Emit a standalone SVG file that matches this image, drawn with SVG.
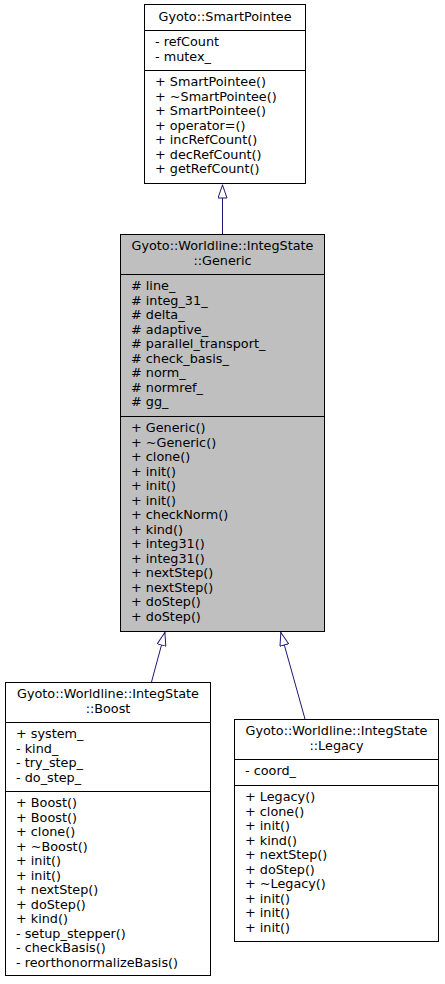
<svg xmlns="http://www.w3.org/2000/svg" width="445" height="984" viewBox="0 0 445 984">
<defs>
<style>
text{font-family:"DejaVu Sans","Liberation Sans",sans-serif;font-size:12.8px;fill:#000}
.c{text-anchor:middle}
.box{fill:#fff;stroke:#000;stroke-width:1}
.focus{fill:#bfbfbf;stroke:#000;stroke-width:1}
.sep{stroke:#000;stroke-width:1;fill:none}
.edge{stroke:#191970;stroke-width:1;fill:none;marker-end:url(#inh)}
</style>
<marker id="inh" viewBox="0 0 14 10" markerWidth="14" markerHeight="10" refX="14" refY="5" orient="auto" markerUnits="userSpaceOnUse">
<path d="M0.5,0.5 L13.5,5 L0.5,9.5 z" fill="#fff" stroke="#191970" stroke-width="1"/>
</marker>
</defs>
<rect width="445" height="984" fill="#fff"/>
<g id="edges">
<path class="edge" d="M222.5,234 L222.5,184.5"/>
<path class="edge" d="M151.5,682 L165,632"/>
<path class="edge" d="M305,719 L280.7,632"/>
</g>
<g id="SmartPointee">
<rect class="box" x="144.5" y="4.5" width="161" height="179"/>
<path class="sep" d="M144.5,30.5 H305.5 M144.5,70.5 H305.5"/>
<text class="c" x="225" y="21">Gyoto::SmartPointee</text>
<text x="155" y="46">- refCount</text>
<text x="155" y="60.5">- mutex_</text>
<text x="155" y="86">+ SmartPointee()</text>
<text x="155" y="100.5">+ ~SmartPointee()</text>
<text x="155" y="115">+ SmartPointee()</text>
<text x="155" y="129.5">+ operator=()</text>
<text x="155" y="144">+ incRefCount()</text>
<text x="155" y="158.5">+ decRefCount()</text>
<text x="155" y="173">+ getRefCount()</text>
</g>
<g id="Generic">
<rect class="focus" x="120.5" y="234.5" width="204" height="397"/>
<path class="sep" d="M120.5,274.5 H324.5 M120.5,416.5 H324.5"/>
<text class="c" x="222.5" y="250">Gyoto::Worldline::IntegState</text>
<text class="c" x="222.5" y="264.5">::Generic</text>
<text x="131" y="290"># line_</text>
<text x="131" y="304.5"># integ_31_</text>
<text x="131" y="319"># delta_</text>
<text x="131" y="333.5"># adaptive_</text>
<text x="131" y="348"># parallel_transport_</text>
<text x="131" y="362.5"># check_basis_</text>
<text x="131" y="377"># norm_</text>
<text x="131" y="391.5"># normref_</text>
<text x="131" y="406"># gg_</text>
<text x="131" y="432">+ Generic()</text>
<text x="131" y="446.5">+ ~Generic()</text>
<text x="131" y="461">+ clone()</text>
<text x="131" y="475.5">+ init()</text>
<text x="131" y="490">+ init()</text>
<text x="131" y="504.5">+ init()</text>
<text x="131" y="519">+ checkNorm()</text>
<text x="131" y="533.5">+ kind()</text>
<text x="131" y="548">+ integ31()</text>
<text x="131" y="562.5">+ integ31()</text>
<text x="131" y="577">+ nextStep()</text>
<text x="131" y="591.5">+ nextStep()</text>
<text x="131" y="606">+ doStep()</text>
<text x="131" y="620.5">+ doStep()</text>
</g>
<g id="Boost">
<rect class="box" x="5.5" y="682.5" width="205" height="293"/>
<path class="sep" d="M5.5,722.5 H210.5 M5.5,791.5 H210.5"/>
<text class="c" x="108" y="698">Gyoto::Worldline::IntegState</text>
<text class="c" x="108" y="712.5">::Boost</text>
<text x="16" y="738">+ system_</text>
<text x="16" y="752.5">- kind_</text>
<text x="16" y="767">- try_step_</text>
<text x="16" y="781.5">- do_step_</text>
<text x="16" y="807">+ Boost()</text>
<text x="16" y="821.5">+ Boost()</text>
<text x="16" y="836">+ clone()</text>
<text x="16" y="850.5">+ ~Boost()</text>
<text x="16" y="865">+ init()</text>
<text x="16" y="879.5">+ init()</text>
<text x="16" y="894">+ nextStep()</text>
<text x="16" y="908.5">+ doStep()</text>
<text x="16" y="923">+ kind()</text>
<text x="16" y="937.5">- setup_stepper()</text>
<text x="16" y="952">- checkBasis()</text>
<text x="16" y="966.5">- reorthonormalizeBasis()</text>
</g>
<g id="Legacy">
<rect class="box" x="234.5" y="719.5" width="204" height="222"/>
<path class="sep" d="M234.5,759.5 H438.5 M234.5,785.5 H438.5"/>
<text class="c" x="336.5" y="735">Gyoto::Worldline::IntegState</text>
<text class="c" x="336.5" y="749.5">::Legacy</text>
<text x="245" y="775">- coord_</text>
<text x="245" y="801">+ Legacy()</text>
<text x="245" y="815.5">+ clone()</text>
<text x="245" y="830">+ init()</text>
<text x="245" y="844.5">+ kind()</text>
<text x="245" y="859">+ nextStep()</text>
<text x="245" y="873.5">+ doStep()</text>
<text x="245" y="888">+ ~Legacy()</text>
<text x="245" y="902.5">+ init()</text>
<text x="245" y="917">+ init()</text>
<text x="245" y="931.5">+ init()</text>
</g>
</svg>
